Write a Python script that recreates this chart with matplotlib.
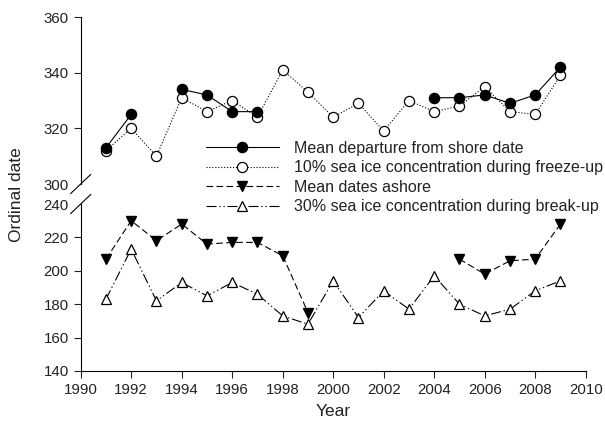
import numpy as np
import matplotlib
matplotlib.use("Agg")
import matplotlib.pyplot as plt
from matplotlib.lines import Line2D

plt.rcParams['font.family'] = ['Liberation Sans', 'DejaVu Sans']

years = list(range(1991, 2010))
nan = np.nan
mean_departure = [313, 325, nan, 334, 332, 326, 326, nan, nan, nan, nan, nan, nan,
                  331, 331, 332, 329, 332, 342]
freeze_10 = [312, 320, 310, 331, 326, 330, 324, 341, 333, 324, 329, 319, 330,
             326, 328, 335, 326, 325, 339]
mean_ashore = [207, 230, 218, 228, 216, 217, 217, 209, 175, nan, nan, nan, nan,
               nan, 207, 198, 206, 207, 228]
breakup_30 = [183, 213, 182, 193, 185, 193, 186, 173, 168, 194, 172, 188, 177,
              197, 180, 173, 177, 188, 194]

labels = ["Mean departure from shore date",
          "10% sea ice concentration during freeze-up",
          "Mean dates ashore",
          "30% sea ice concentration during break-up"]

W, H = 605, 429
fig = plt.figure(figsize=(W / 100, H / 100), dpi=100)

left, right = 80.7 / W, 585.7 / W
ax_top = fig.add_axes([left, 1 - 184 / H, right - left, (184 - 17) / H])
ax_bot = fig.add_axes([left, 1 - 371 / H, right - left, (371 - 204) / H])

lw = 0.8
ms = 7.3
dashdotdot = (0, (9, 2.5, 1.2, 2.5, 1.2, 2.5))

h1, = ax_top.plot(years, mean_departure, color='black', lw=lw, ls='-',
                  marker='o', ms=ms, mfc='black', mec='black', zorder=3)
h2, = ax_top.plot(years, freeze_10, color='black', lw=lw, ls=':',
                  marker='o', ms=ms, mfc='white', mec='black', mew=0.9, zorder=2)
h3, = ax_bot.plot(years, mean_ashore, color='black', lw=lw, ls=(0, (6, 3)),
                  marker='v', ms=ms, mfc='black', mec='black', zorder=3)
h4, = ax_bot.plot(years, breakup_30, color='black', lw=lw, ls=dashdotdot,
                  marker='^', ms=ms, mfc='white', mec='black', mew=0.9, zorder=2)

for ax in (ax_top, ax_bot):
    ax.set_xlim(1990, 2010)
    ax.spines['top'].set_visible(False)
    ax.spines['right'].set_visible(False)
    ax.tick_params(direction='out', length=5, width=0.8, labelsize=10.8,
                   colors='#222222')
    ax.spines['left'].set_linewidth(0.8)
    ax.spines['bottom'].set_linewidth(0.8)

ax_top.set_ylim(300, 360)
ax_top.set_yticks([300, 320, 340, 360])
ax_top.spines['bottom'].set_visible(False)
ax_top.tick_params(axis='x', bottom=False, labelbottom=False)
ax_top.yaxis.get_major_ticks()[0].tick1line.set_visible(False)

ax_bot.set_ylim(140, 240)
ax_bot.set_yticks([140, 160, 180, 200, 220, 240])
ax_bot.set_xticks(range(1990, 2011, 2))
ax_bot.yaxis.get_major_ticks()[-1].tick1line.set_visible(False)
ax_bot.spines['bottom'].set_bounds(1990, 2010)

# break marks
for yc in (184, 204):
    fig.add_artist(Line2D([(80.7 - 10) / W, (80.7 + 10) / W],
                          [1 - (yc + 9.5) / H, 1 - (yc - 9.5) / H],
                          color='black', lw=0.8, transform=fig.transFigure))

fig.text(333 / W, 1 - 412 / H, "Year", ha='center', va='center', fontsize=12.5,
         color='#222222')
fig.text(17 / W, 1 - 195 / H, "Ordinal date", ha='center', va='center',
         rotation=90, fontsize=12.5, color='#222222')

fig.legend([h1, h2, h3, h4], labels, loc='upper left',
           bbox_to_anchor=(205.7 / W, 1 - 141 / H), frameon=False,
           fontsize=11.5, numpoints=1, handlelength=4.6, handletextpad=0.95,
           labelspacing=0.28, borderpad=0, borderaxespad=0, labelcolor='#222222')

fig.savefig("out.png", dpi=100)
